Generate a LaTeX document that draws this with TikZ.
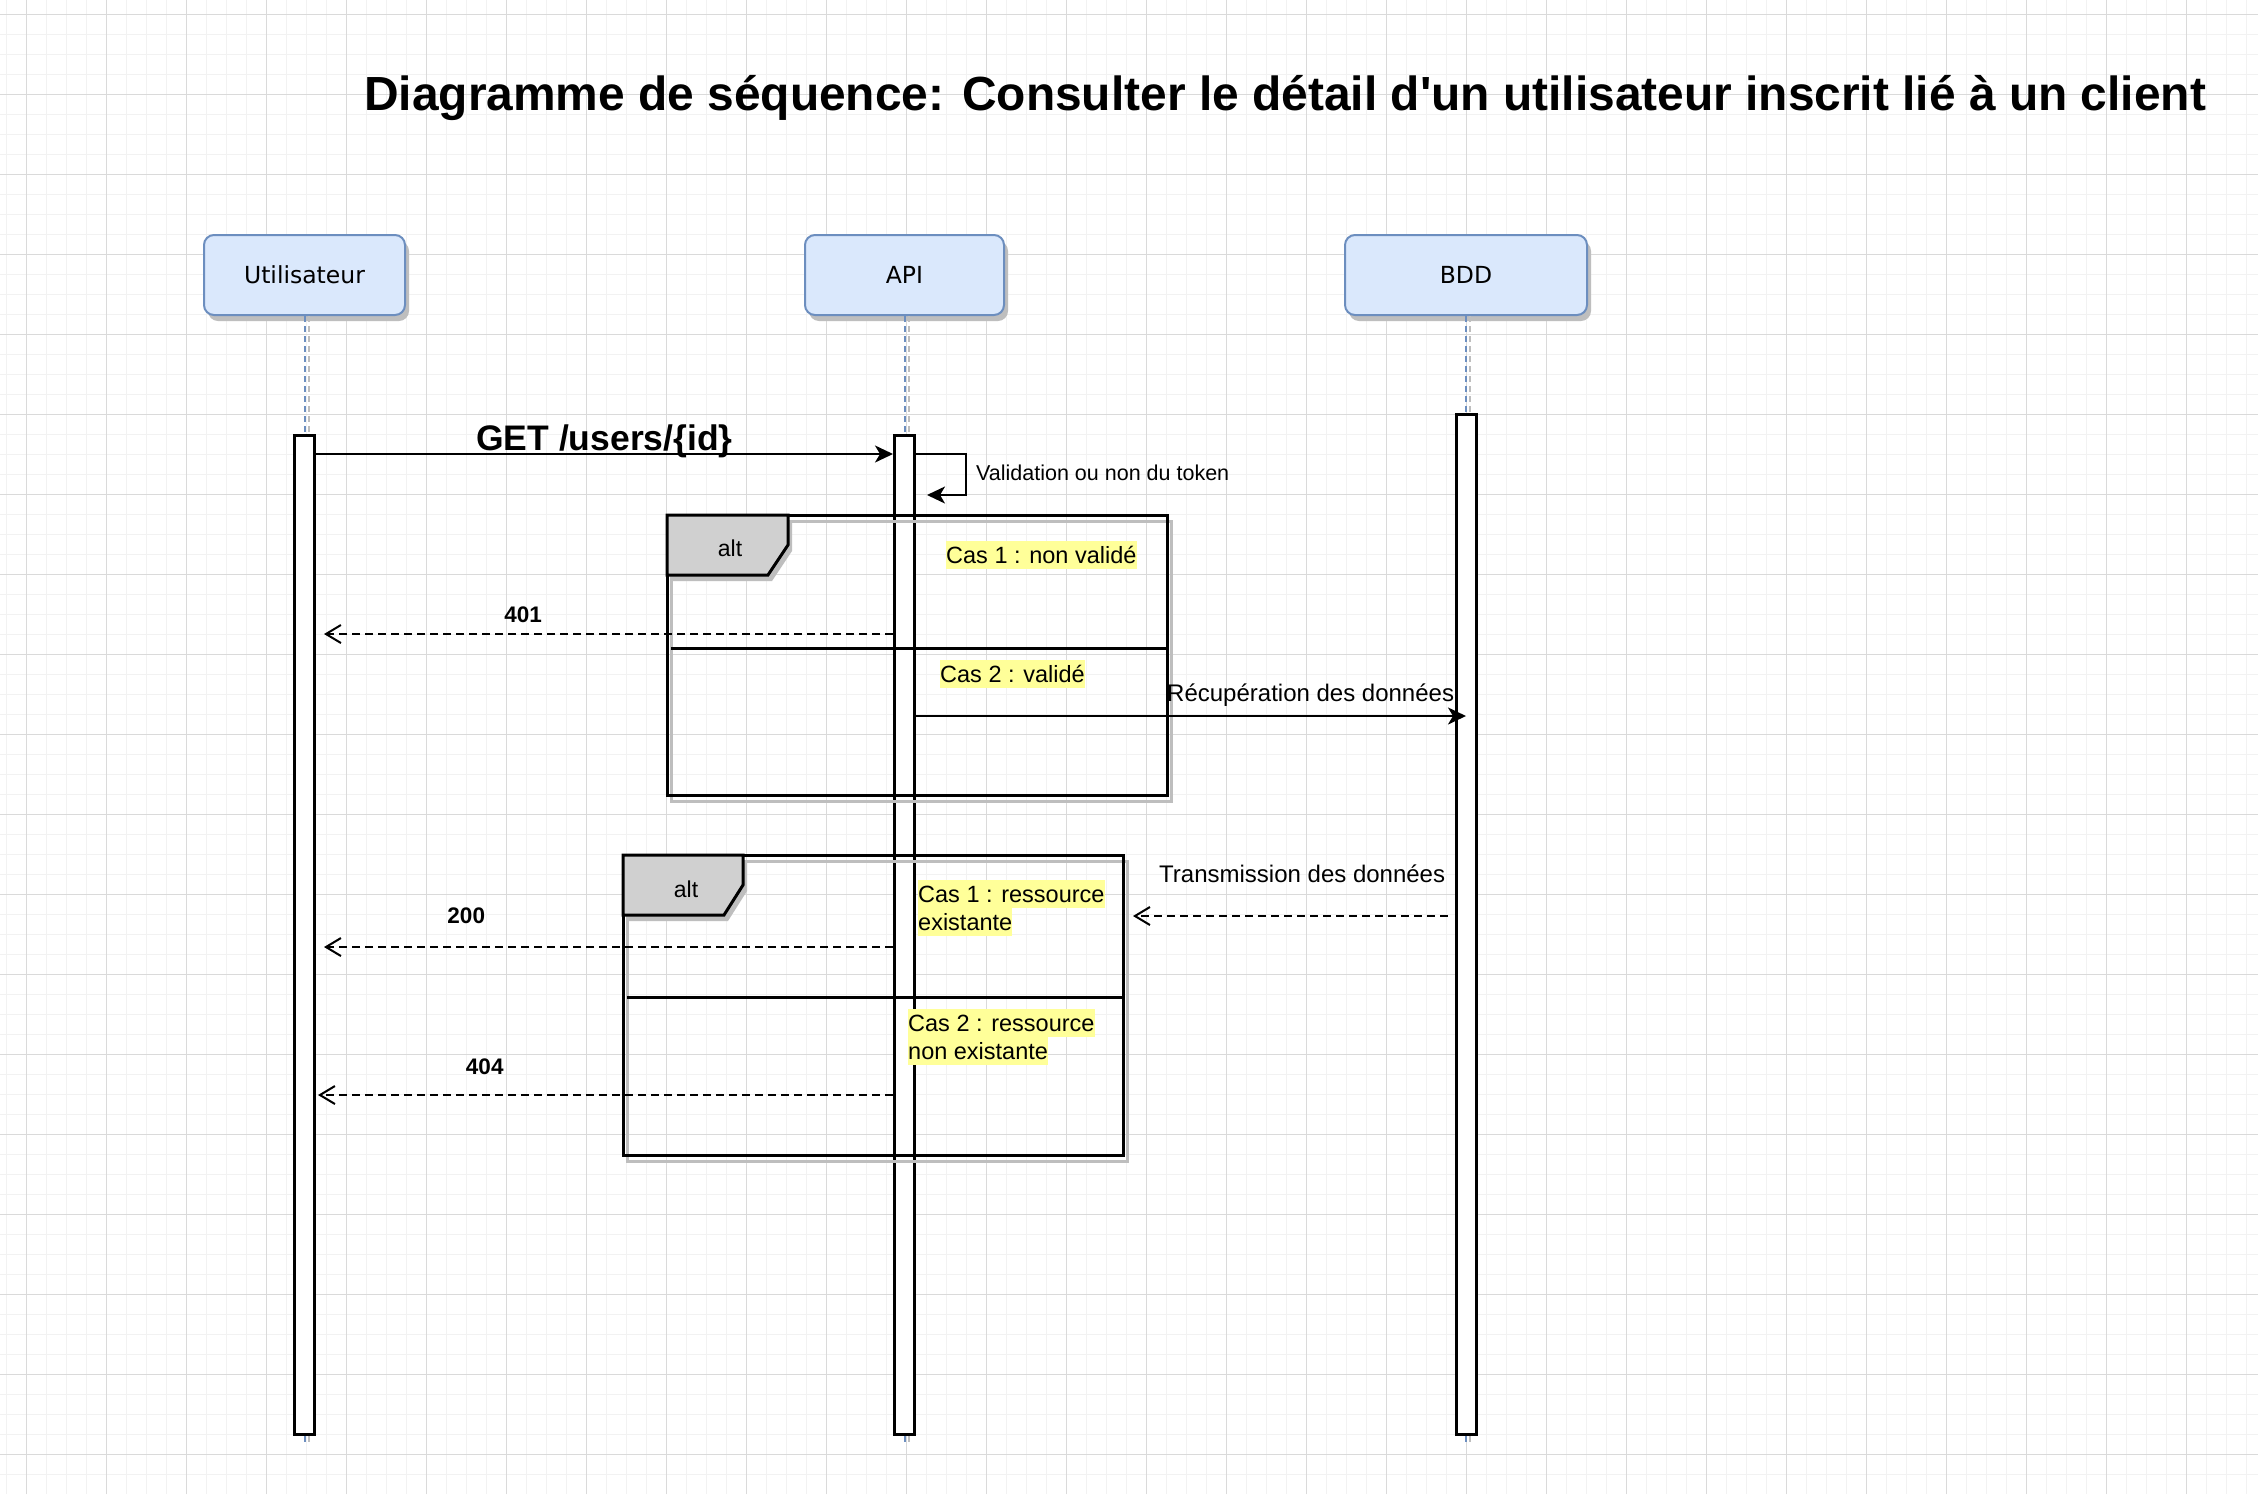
\documentclass[tikz,border=0pt]{standalone}
\usepackage{fontspec}
\setmainfont{Liberation Sans}
\newfontfamily\headfont{DejaVu Sans}
\usetikzlibrary{arrows.meta,positioning,calc,shadows}

\definecolor{headfill}{HTML}{DAE8FC}
\definecolor{headdraw}{HTML}{6C8EBF}
\definecolor{tabfill}{HTML}{D0D0D0}
\definecolor{shadowgray}{HTML}{BEBEBE}
\definecolor{hilite}{HTML}{FFFF99}
\definecolor{gridmajor}{HTML}{DADADA}
\definecolor{gridminor}{HTML}{F2F2F2}

\newcommand{\casebg}[1]{{\setlength{\fboxsep}{0pt}\colorbox{hilite}{\rule[-6pt]{0pt}{28pt}#1}}}

\begin{document}
\begin{tikzpicture}[
  x=1pt, y=-1pt,
  head/.style={rectangle, rounded corners=10pt, draw=headdraw, line width=2pt,
               fill=headfill, minimum height=80pt,
               font=\headfont\fontsize{23.5}{28}\selectfont,
               drop shadow={shadow xshift=4pt, shadow yshift=-6pt,
                            fill=shadowgray, opacity=1}},
  bar/.style={rectangle, draw=black, line width=3pt, fill=white,
              minimum width=20pt, inner sep=0pt},
  life/.style={draw=headdraw, line width=2pt, dash pattern=on 6pt off 4pt},
  lifeshade/.style={draw=shadowgray, line width=2pt, dash pattern=on 6pt off 4pt},
  msg/.style={-{Stealth[length=18pt, width=17pt, inset=5pt]}, line width=2.2pt},
  reply/.style={-{Straight Barb[length=15pt, width=18pt]}, line width=2pt,
                dash pattern=on 8pt off 5pt},
  altbox/.style={rectangle, draw=black, line width=3pt, inner sep=0pt,
                 outer sep=0pt, anchor=north west},
  tab/.style={draw=black, line width=3pt, fill=tabfill},
  lbl/.style={font=\fontsize{24}{29}\selectfont, inner sep=0pt, anchor=base west},
  code/.style={font=\bfseries\fontsize{22.5}{27}\selectfont, inner sep=0pt, anchor=base},
  cas/.style={font=\fontsize{23.5}{28}\selectfont, inner sep=0pt, align=left,
              anchor=north west}
]
\fill[white] (0,0) rectangle (2258,1494);
\useasboundingbox (0,0) rectangle (2258,1494);
\begin{scope}[shift={(6.7,14.3)}]
  \draw[gridminor, line width=1.5pt, step=20pt] (-6.7,-14.3) grid (2251.3,1479.7);
\end{scope}
\begin{scope}[shift={(26.7,14.3)}]
  \draw[gridmajor, line width=1pt, step=80pt] (-26.7,-14.3) grid (2231.3,1479.7);
\end{scope}

\node[anchor=base west, inner sep=0pt, font=\bfseries\fontsize{47.9}{57}\selectfont] (title)
  at (364,110) {Diagramme de séquence: Consulter le détail d\textquotesingle un utilisateur inscrit lié à un client};

\node[head, minimum width=201pt] (usr) at (304.5,275) {Utilisateur};
\node[head, minimum width=199pt, right=398pt of usr] (api) {API};
\node[head, minimum width=242pt, right=339pt of api] (bdd) {BDD};

\foreach \h in {usr,api,bdd} {
  \draw[lifeshade] ([xshift=4pt]\h.south) -- ++(0,1129);
  \draw[life] (\h.south) -- ++(0,1129);
}

\node[bar, minimum height=999pt, below=118pt of usr] (usrbar) {};
\node[bar, minimum height=999pt, below=118pt of api] (apibar) {};
\node[bar, minimum height=1020pt, below=97pt of bdd] (bddbar) {};

\coordinate (yget) at (0,454);
\draw[msg] (usrbar.east |- yget) -- (apibar.west |- yget)
  node[pos=0.5, anchor=base, yshift=4pt, inner sep=0pt,
       font=\bfseries\fontsize{35.5}{42}\selectfont] {GET /users/\{id\}};
\draw[msg] (apibar.east |- yget) -- ++(50,0) -- ++(0,41) -- ++(-39,0);
\node[font=\fontsize{21.5}{26}\selectfont, inner sep=0pt, anchor=base west] (tok)
  at (976,480) {Validation ou non du token};

\draw[shadowgray, line width=3pt] (671,521) rectangle (1171,801);
\node[altbox, minimum width=500pt, minimum height=280pt] (altA) at (667,515) {};
\fill[shadowgray] ($(altA.north west)+(4,6)$) -- ++(121,0) -- ++(0,30) -- ++(-20,30) -- ++(-101,0) -- cycle;
\draw[tab] (altA.north west) -- ++(121,0) -- ++(0,30) -- ++(-20,30) -- ++(-101,0) -- cycle;
\node[font=\fontsize{23}{28}\selectfont, inner sep=0pt] (altAlbl) at (730,548) {alt};
\draw[line width=3pt] ($(altA.north west)+(4,133)$) -- ($(altA.north east)+(0,133)$);

\draw[shadowgray, line width=3pt] (627,861) rectangle (1127,1161);
\node[altbox, minimum width=500pt, minimum height=300pt] (altB) at (623,855) {};
\fill[shadowgray] ($(altB.north west)+(4,6)$) -- ++(120,0) -- ++(0,30) -- ++(-19,30) -- ++(-101,0) -- cycle;
\draw[tab] (altB.north west) -- ++(120,0) -- ++(0,30) -- ++(-19,30) -- ++(-101,0) -- cycle;
\node[font=\fontsize{23}{28}\selectfont, inner sep=0pt] (altBlbl) at (686,889) {alt};
\draw[line width=3pt] ($(altB.north west)+(4,142)$) -- ($(altB.north east)+(0,142)$);

\node[cas] (casA1) at (946,541) {\casebg{Cas 1 : non validé}};
\node[cas] (casA2) at (940,660) {\casebg{Cas 2 : validé}};
\node[cas] (casB1) at (918,880) {\casebg{Cas 1 : ressource}\\\casebg{existante}};
\node[cas] (casB2) at (908,1009) {\casebg{Cas 2 : ressource}\\\casebg{non existante}};

\coordinate (y401) at (0,634);
\draw[reply] (apibar.west |- y401) -- ([xshift=8pt]usrbar.east |- y401)
  node[pos=0.65, yshift=12pt, code] {401};

\coordinate (yrec) at (0,716);
\draw[msg] (apibar.east |- yrec) -- (bddbar.center |- yrec);
\node[lbl] (rec) at (1167,701) {Récupération des données};

\coordinate (ytra) at (0,916);
\draw[reply] ([xshift=-7pt]bddbar.west |- ytra) -- ([xshift=217pt]apibar.east |- ytra);
\node[lbl] (tra) at (1159,882) {Transmission des données};

\coordinate (y200) at (0,947);
\draw[reply] (apibar.west |- y200) -- ([xshift=8pt]usrbar.east |- y200)
  node[pos=0.75, yshift=24pt, code] {200};

\coordinate (y404) at (0,1095);
\draw[reply] (apibar.west |- y404) -- ([xshift=2pt]usrbar.east |- y404)
  node[pos=0.71, yshift=21pt, code] {404};
\end{tikzpicture}
\end{document}
